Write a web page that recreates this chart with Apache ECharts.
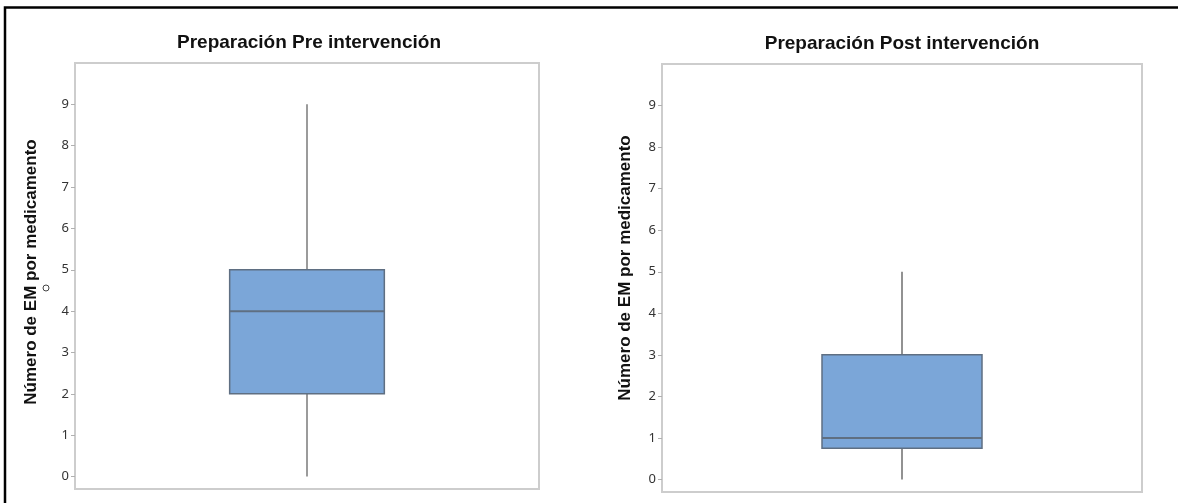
<!DOCTYPE html>
<html>
<head>
<meta charset="utf-8">
<title>Preparación Pre / Post intervención</title>
<script src="https://cdn.jsdelivr.net/npm/echarts@6/dist/echarts.min.js"></script>
<style>
  html, body { margin: 0; padding: 0; background: #fff; }
  #chart { width: 1178px; height: 503px; }
</style>
</head>
<body>
<div id="chart"></div>
<script>
// Panel titles
const panelTitles = ['Preparación Pre intervención', 'Preparación Post intervención'];
const yAxisName = 'Número de EM por medicamento';

// One box per panel: [min, Q1, median, Q3, max]
const preStats = [0, 2, 4, 5, 9];
const postStats = [0, 0.75, 1, 3, 5];

// Y tick values shown on both axes
const yTicks = [0, 1, 2, 3, 4, 5, 6, 7, 8, 9];
const yRange = [-0.3, 10];

const boxFill = '#7ba6d8';
const boxEdge = '#5f6f82';
const whiskerColors = ['#9b9b9b', '#6e6e6e'];
const whiskerWidths = [2, 1.5];

const chart = echarts.init(document.getElementById('chart'), null, { renderer: 'canvas' });

function makeRenderer(idx) {
  return function (params, api) {
    const x = api.value(0);
    const pMin = api.coord([x, api.value(1)]);
    const pQ1 = api.coord([x, api.value(2)]);
    const pMed = api.coord([x, api.value(3)]);
    const pQ3 = api.coord([x, api.value(4)]);
    const pMax = api.coord([x, api.value(5)]);
    const band = api.size([1, 0])[0];
    const half = band / 3 / 2;
    const cx = pMed[0];
    const whisker = { stroke: whiskerColors[idx], lineWidth: whiskerWidths[idx] };
    return {
      type: 'group',
      children: [
        { type: 'line', shape: { x1: cx, y1: pMin[1], x2: cx, y2: pQ1[1] }, style: whisker },
        { type: 'line', shape: { x1: cx, y1: pQ3[1], x2: cx, y2: pMax[1] }, style: whisker },
        {
          type: 'rect',
          shape: { x: cx - half, y: pQ3[1], width: half * 2, height: pQ1[1] - pQ3[1] },
          style: { fill: boxFill, stroke: boxEdge, lineWidth: 1.5 }
        },
        {
          type: 'line',
          shape: { x1: cx - half, y1: pMed[1], x2: cx + half, y2: pMed[1] },
          style: { stroke: boxEdge, lineWidth: 2 }
        }
      ]
    };
  };
}

// nameShift moves the rotated axis title up along the axis
function yAxis(gridIndex, nameGap, nameShift) {
  return {
    type: 'value',
    gridIndex: gridIndex,
    min: yRange[0],
    max: yRange[1],
    name: yAxisName,
    nameLocation: 'middle',
    nameRotate: 90,
    nameGap: nameGap,
    nameTextStyle: {
      fontFamily: 'Liberation Sans, Arial, sans-serif',
      fontWeight: 'bold',
      fontSize: 17,
      color: '#111',
      padding: [0, 0, 0, nameShift * 2]
    },
    axisLine: { show: false },
    axisTick: {
      show: true,
      length: 4,
      customValues: yTicks,
      lineStyle: { color: '#b0b0b0', width: 1 }
    },
    axisLabel: {
      customValues: yTicks,
      margin: 6,
      fontFamily: 'Noto Sans, sans-serif',
      fontSize: 13,
      color: '#333'
    },
    splitLine: { show: false }
  };
}

function xAxis(gridIndex) {
  return {
    type: 'category',
    gridIndex: gridIndex,
    data: [''],
    axisLine: { show: false },
    axisTick: { show: false },
    axisLabel: { show: false },
    splitLine: { show: false }
  };
}

const titleStyle = {
  fontFamily: 'Liberation Sans, Arial, sans-serif',
  fontWeight: 'bold',
  fontSize: 19,
  color: '#111'
};

chart.setOption({
  animation: false,
  backgroundColor: '#fff',
  title: [
    { text: panelTitles[0], left: 309, top: 33, textAlign: 'center', padding: 0, textStyle: titleStyle },
    { text: panelTitles[1], left: 902, top: 34, textAlign: 'center', padding: 0, textStyle: titleStyle }
  ],
  grid: [
    { left: 75, top: 63, width: 464, height: 426, show: true, borderColor: '#cdcdcd', borderWidth: 2, backgroundColor: '#fff' },
    { left: 662, top: 64, width: 480, height: 428, show: true, borderColor: '#cdcdcd', borderWidth: 2, backgroundColor: '#fff' }
  ],
  xAxis: [xAxis(0), xAxis(1)],
  yAxis: [yAxis(0, 35, 4), yAxis(1, 28, 10)],
  series: [
    {
      type: 'custom',
      name: panelTitles[0],
      xAxisIndex: 0,
      yAxisIndex: 0,
      renderItem: makeRenderer(0),
      encode: { x: 0, y: [1, 2, 3, 4, 5] },
      data: [[0].concat(preStats)]
    },
    {
      type: 'custom',
      name: panelTitles[1],
      xAxisIndex: 1,
      yAxisIndex: 1,
      renderItem: makeRenderer(1),
      encode: { x: 0, y: [1, 2, 3, 4, 5] },
      data: [[0].concat(postStats)]
    }
  ],
  graphic: [
    // outer frame, open on the right and bottom
    {
      type: 'polyline',
      silent: true,
      shape: { points: [[5, 503], [5, 7.5], [1178, 7.5]] },
      style: { stroke: '#000', lineWidth: 2.5, fill: null }
    },
    // small stray circle beside the left axis title
    {
      type: 'circle',
      silent: true,
      shape: { cx: 46, cy: 288, r: 3 },
      style: { fill: '#fff', stroke: '#444', lineWidth: 1 }
    }
  ]
});
</script>
</body>
</html>
